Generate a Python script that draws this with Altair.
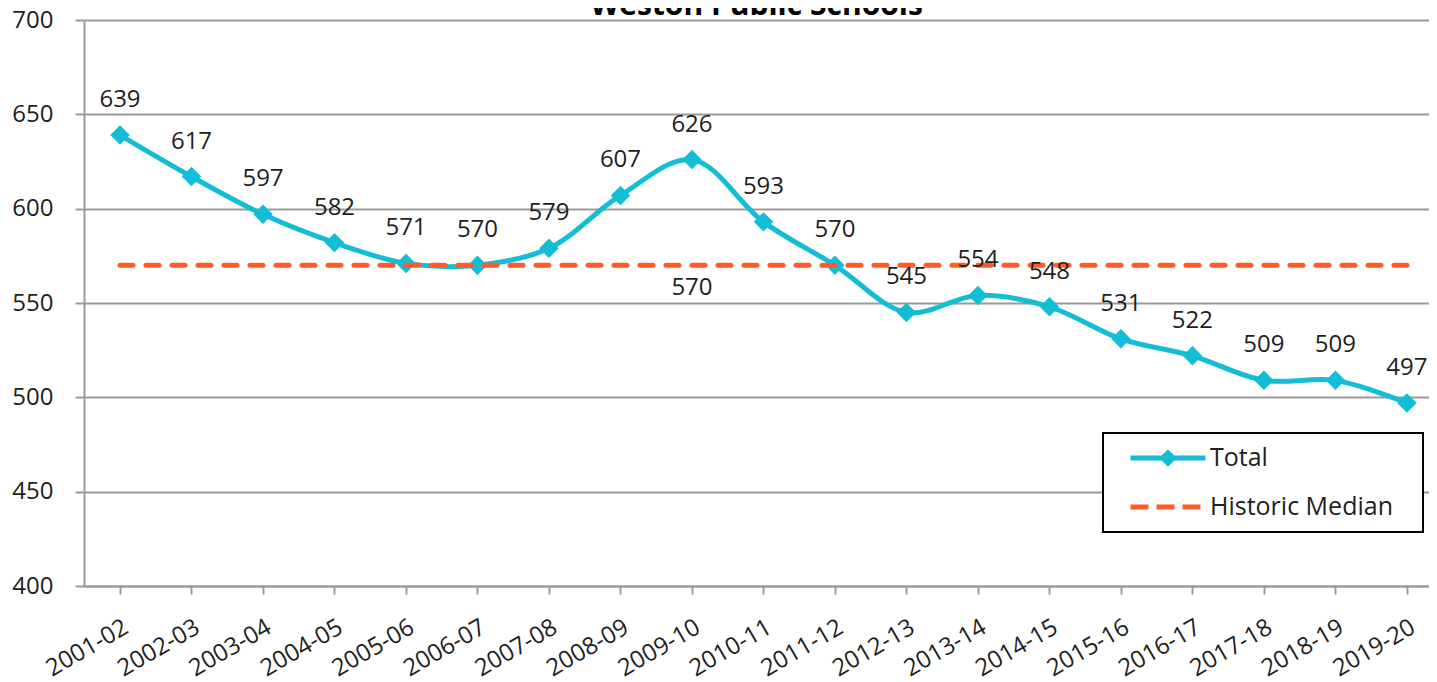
import altair as alt
import pandas as pd

# ---- data ----
years = ["2001-02", "2002-03", "2003-04", "2004-05", "2005-06", "2006-07", "2007-08",
         "2008-09", "2009-10", "2010-11", "2011-12", "2012-13", "2013-14", "2014-15",
         "2015-16", "2016-17", "2017-18", "2018-19", "2019-20"]
totals = [639, 617, 597, 582, 571, 570, 579, 607, 626, 593, 570, 545, 554, 548,
          531, 522, 509, 509, 497]
median_value = 570
median_label_year = "2009-10"
series_names = ["Total", "Historic Median"]
y_ticks = [400, 450, 500, 550, 600, 650, 700]
title_text = "Weston Public Schools"

# ---- styles ----
CYAN = "#12BDD5"
ORANGE = "#FF5B2A"
GRID = "#9A9A9A"
TEXT = "#1E1E1E"
FONT = "Open Sans"
FS = 24

TOTAL_PATH = "M-1,0L1,0M-0.14,0L0,-0.14L0.14,0L0,0.14Z"
MEDIAN_PATH = "M-1,0L1,0"

total_df = pd.DataFrame({"year": years, "value": totals, "series": "Total"})
median_df = pd.DataFrame({"year": years, "value": [median_value] * len(years),
                          "series": "Historic Median"})
median_lbl_df = median_df[median_df["year"] == median_label_year]

x_enc = alt.X(
    "year:N", sort=years,
    scale=alt.Scale(type="point", padding=0.406, align=0.62),
    axis=alt.Axis(title=None, labelAngle=-30, labelAlign="right", labelBaseline="top",
                  labelFontSize=FS, labelFont=FONT, labelColor=TEXT, labelPadding=21,
                  tickSize=8, tickWidth=2, tickColor=GRID, domainColor=GRID,
                  domainWidth=2, grid=False, labelOverlap=False),
)
y_enc = alt.Y(
    "value:Q",
    scale=alt.Scale(domain=[400, 700], nice=False, zero=False),
    axis=alt.Axis(title=None, values=y_ticks, labelFontSize=FS, labelFont=FONT,
                  labelColor=TEXT, labelPadding=22, tickSize=9, tickWidth=2,
                  tickColor=GRID, domainColor=GRID, domainWidth=2, grid=True,
                  gridColor=GRID, gridWidth=2),
)

total_line = alt.Chart(total_df).mark_line(
    interpolate="catmull-rom", strokeWidth=5, color=CYAN
).encode(x=x_enc, y=y_enc)

total_pts = alt.Chart(total_df).mark_point(
    shape="diamond", filled=True, size=380, color=CYAN, opacity=1
).encode(x=x_enc, y=y_enc)

median_line = alt.Chart(median_df).mark_line(
    strokeWidth=5, strokeDash=[13, 13], strokeCap="round", color=ORANGE
).encode(x=x_enc, y=y_enc)

total_labels = alt.Chart(total_df).mark_text(
    fontSize=FS, font=FONT, color=TEXT, baseline="alphabetic", dy=-28
).encode(x=x_enc, y=y_enc, text="value:Q")

median_label = alt.Chart(median_lbl_df).mark_text(
    fontSize=FS, font=FONT, color=TEXT, baseline="alphabetic", dy=30
).encode(x=x_enc, y=y_enc, text="value:Q")

leg = alt.Legend(title=None, orient="none", legendX=1019, legendY=413,
                 strokeColor="#000000", padding=10, symbolOffset=15,
                 labelFontSize=25, labelFont=FONT, labelColor=TEXT, labelOffset=2,
                 labelLimit=0, labelExpr="datum.label + '\u00a0\u00a0\u00a0\u200b'",
                 symbolSize=5625, symbolStrokeWidth=5,
                 clipHeight=30, rowPadding=19, fillColor="#FFFFFF")

legend_layer = alt.Chart(total_df).transform_filter("false").mark_point(
    filled=True, strokeWidth=5, opacity=1
).encode(
    x=x_enc, y=y_enc,
    shape=alt.Shape("series:N", scale=alt.Scale(domain=series_names,
                                                 range=[TOTAL_PATH, MEDIAN_PATH]), legend=leg),
    fill=alt.Fill("series:N", scale=alt.Scale(domain=series_names, range=[CYAN, ORANGE]),
                  legend=leg),
    stroke=alt.Stroke("series:N", scale=alt.Scale(domain=series_names, range=[CYAN, ORANGE]),
                      legend=leg),
    strokeDash=alt.StrokeDash("series:N", scale=alt.Scale(domain=series_names,
                                                           range=[[1, 0], [18, 8]]), legend=leg),
)

chart = alt.layer(
    total_line, total_pts, median_line, total_labels, median_label, legend_layer
).properties(
    width=1345, height=566,
    title=alt.TitleParams(title_text, fontSize=30, fontWeight="bold", font=FONT,
                          anchor="middle", frame="group", offset=-13,
                          color="#000000"),
    autosize=alt.AutoSizeParams(type="none"),
    padding={"left": 76, "top": 12, "right": 0, "bottom": 96},
).configure_view(stroke=None).configure_legend(strokeWidth=2)

chart.save("out.html", embed_options={"renderer": "svg", "actions": False})
